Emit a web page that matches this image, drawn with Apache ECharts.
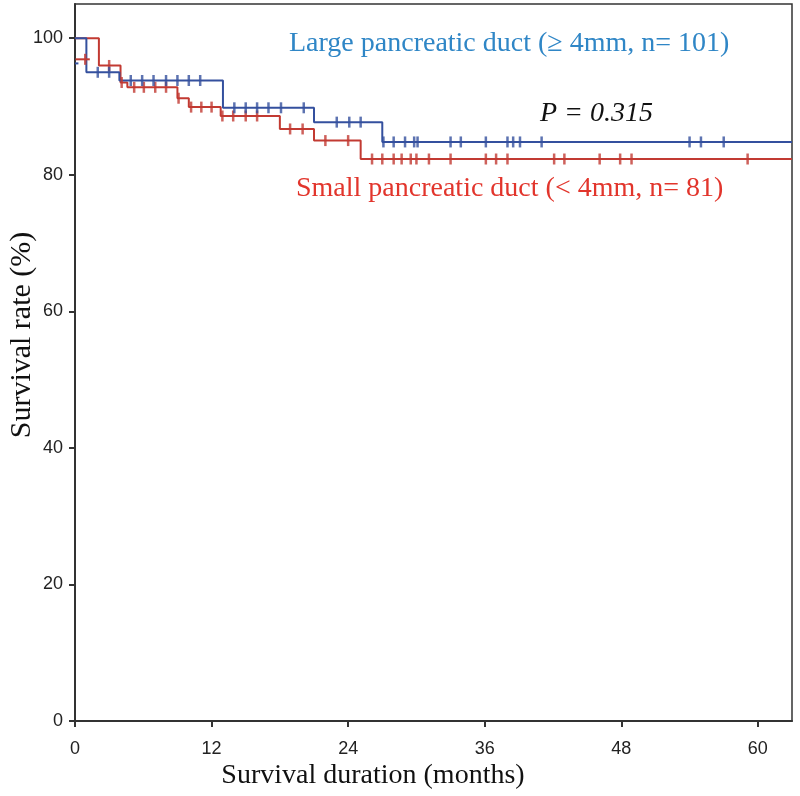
<!DOCTYPE html>
<html><head><meta charset="utf-8">
<script src="https://cdn.jsdelivr.net/npm/echarts@6/dist/echarts.min.js"></script>
<style>html,body{margin:0;padding:0;background:#fff}#c{width:800px;height:796px}</style>
</head><body><div id="c"></div>
<script>
// Tick values
const xTicks = [0, 12, 24, 36, 48, 60];
const yTicks = [0, 20, 40, 60, 80, 100];

// Large pancreatic duct (>= 4mm, n=101): step times / survival (%)
const largeTimes = [0, 1.0, 3.9, 13.0, 21.0, 27.0, 63];
const largeSurv  = [100, 95.0, 93.8, 89.8, 87.7, 84.8, 84.8];
const largeCensored = [2.0, 3.0, 4.9, 5.9, 6.9, 8.0, 9.0, 10.0, 11.0, 14.0, 15.0, 16.0, 17.0, 18.1, 20.1,
  23.0, 24.1, 25.1, 27.1, 28.0, 29.0, 29.8, 30.1, 33.0, 33.9, 36.1, 38.0, 38.5, 39.1, 41.0, 54.0, 55.0, 57.0];
const largeEarlyTimes = [0, 0.3];
const largeEarlySurv  = [96.3, 96.3];

// Small pancreatic duct (< 4mm, n=81)
const smallTimes = [0, 2.1, 4.0, 4.6, 9.0, 10.0, 12.8, 18.0, 21.0, 25.1, 63];
const smallSurv  = [100, 96.0, 93.5, 92.8, 91.2, 89.9, 88.6, 86.7, 85.0, 82.3, 82.3];
const smallCensored = [3.0, 4.1, 5.2, 6.05, 7.05, 8.0, 9.1, 10.2, 11.1, 12.0, 12.95, 13.9, 15.0, 16.0, 18.9, 20.0,
  22.0, 24.0, 26.1, 27.0, 28.0, 28.7, 29.5, 30.0, 31.1, 33.0, 36.1, 37.0, 38.0, 42.1, 43.0, 46.1, 47.9, 48.9, 59.1];
const smallEarlyTimes = [0.05, 1.3];
const smallEarlySurv  = [96.9, 96.9];
const smallEarlyCensored = [0.9];

const BLUE = '#34509e', RED = '#c23a32';

function survAt(times, surv, t) {
  let s = surv[0];
  for (let i = 0; i < times.length; i++) if (t >= times[i]) s = surv[i];
  return s;
}
const pairs = (a, b) => a.map((t, i) => [t, b[i]]);
const cens = (list, times, surv) => list.map(t => [t, survAt(times, surv, t)]);

const chart = echarts.init(document.getElementById('c'), null, {renderer: 'canvas'});
const axisCol = '#333';
const tickLabel = {color: '#222', fontFamily: 'Liberation Sans', fontSize: 18};
const censorSym = {type: 'scatter', symbol: 'rect', symbolSize: [2.5, 11], silent: true, z: 3};

chart.setOption({
  animation: false,
  backgroundColor: '#fff',
  grid: {left: 75, right: 8, top: 4, bottom: 75, show: true, borderColor: axisCol, borderWidth: 1.5},
  xAxis: {
    type: 'value', min: 0, max: 63,
    axisLine: {show: true, onZero: false, lineStyle: {color: axisCol, width: 2}},
    axisTick: {show: true, length: 6, lineStyle: {color: axisCol, width: 2}, customValues: xTicks},
    axisLabel: Object.assign({margin: 19, customValues: xTicks}, tickLabel),
    splitLine: {show: false}
  },
  yAxis: {
    type: 'value', min: 0, max: 105,
    axisLine: {show: true, onZero: false, lineStyle: {color: axisCol, width: 2}},
    axisTick: {show: true, length: 6, lineStyle: {color: axisCol, width: 2}, customValues: yTicks},
    axisLabel: Object.assign({margin: 12, customValues: yTicks}, tickLabel),
    splitLine: {show: false}
  },
  series: [
    {type: 'line', step: 'end', data: pairs(smallTimes, smallSurv), showSymbol: false, lineStyle: {color: RED, width: 2}, z: 2},
    {type: 'line', step: 'end', data: pairs(largeTimes, largeSurv), showSymbol: false, lineStyle: {color: BLUE, width: 2}, z: 2},
    {type: 'line', data: pairs(smallEarlyTimes, smallEarlySurv), showSymbol: false, lineStyle: {color: RED, width: 2}, z: 2},
    {type: 'line', data: pairs(largeEarlyTimes, largeEarlySurv), showSymbol: false, lineStyle: {color: BLUE, width: 2}, z: 2},
    Object.assign({data: cens(smallCensored, smallTimes, smallSurv), itemStyle: {color: RED}}, censorSym),
    Object.assign({data: smallEarlyCensored.map(t => [t, smallEarlySurv[0]]), itemStyle: {color: RED}}, censorSym),
    Object.assign({data: cens(largeCensored, largeTimes, largeSurv), itemStyle: {color: BLUE}}, censorSym)
  ],
  graphic: [
    {type: 'text', x: 289, y: 44, style: {text: 'Large pancreatic duct (\u2265 4mm, n= 101)', fill: '#2f86c6', font: '28px "Liberation Serif"', verticalAlign: 'middle'}},
    {type: 'text', x: 540, y: 114, style: {text: 'P = 0.315', fill: '#111', font: 'italic 28px "Liberation Serif"', verticalAlign: 'middle'}},
    {type: 'text', x: 296, y: 189, style: {text: 'Small pancreatic duct (< 4mm, n= 81)', fill: '#e2352c', font: '28px "Liberation Serif"', verticalAlign: 'middle'}},
    {type: 'text', x: 22, y: 335, rotation: Math.PI / 2, style: {text: 'Survival rate (%)', fill: '#111', font: '30px "Liberation Serif"', align: 'center', verticalAlign: 'middle'}},
    {type: 'text', x: 373, y: 776, style: {text: 'Survival duration (months)', fill: '#111', font: '28px "Liberation Serif"', align: 'center', verticalAlign: 'middle'}}
  ]
});
</script>
</body></html>
